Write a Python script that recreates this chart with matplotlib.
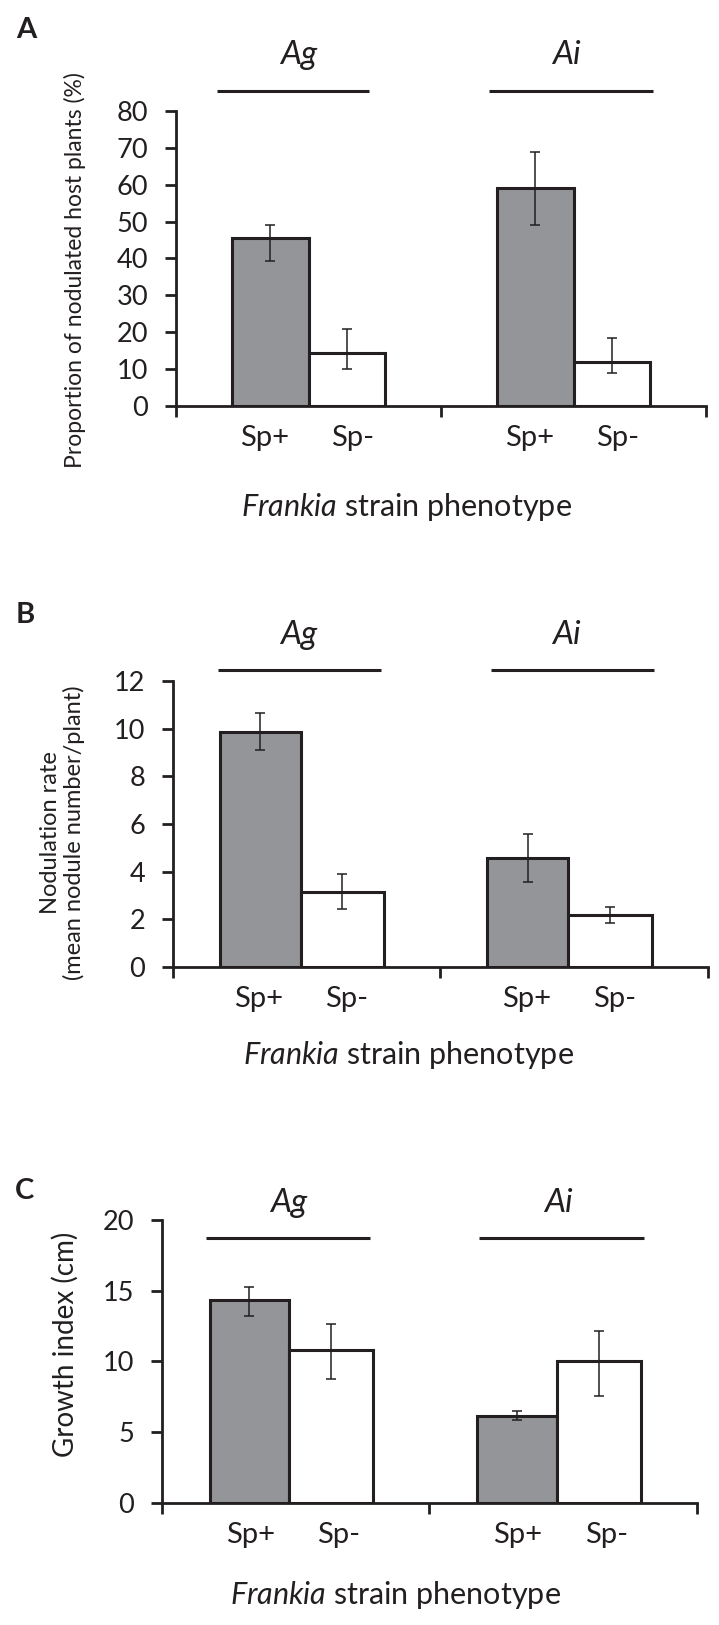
import matplotlib.pyplot as plt
import numpy as np

plt.rcParams['font.family'] = ['Lato', 'DejaVu Sans']
plt.rcParams['mathtext.fontset'] = 'custom'
plt.rcParams['mathtext.rm'] = 'Lato'
plt.rcParams['mathtext.it'] = 'Lato:italic'

groups = ['Ag', 'Ai']
phenotypes = ['Sp+', 'Sp-']

# A: proportion of nodulated host plants (%)
a_plus = [45.6, 59.2]
a_plus_lo = [39.3, 49.2]
a_plus_hi = [49.2, 68.9]
a_minus = [14.3, 11.9]
a_minus_lo = [10.0, 8.8]
a_minus_hi = [20.8, 18.5]

# B: nodulation rate (nodules/plant)
b_plus = [9.85, 4.56]
b_plus_lo = [9.12, 3.57]
b_plus_hi = [10.66, 5.57]
b_minus = [3.16, 2.18]
b_minus_lo = [2.45, 1.85]
b_minus_hi = [3.89, 2.52]

# C: growth index (cm)
c_plus = [14.35, 6.15]
c_plus_lo = [13.2, 5.84]
c_plus_hi = [15.26, 6.52]
c_minus = [10.78, 10.0]
c_minus_lo = [8.76, 7.53]
c_minus_hi = [12.66, 12.15]

GREY = '#939598'
INK = '#231f20'
W, H = 719, 1625

fig = plt.figure(figsize=(W / 100, H / 100), dpi=100)


def panel(rect, letter, letter_xy, plus, plus_lo, plus_hi, minus, minus_lo, minus_hi,
          ymax, ystep, ylabel, ylab_size, ylab_xy, edges, lines, line_y, lab_x, lab_y,
          sp_x, frank_xy):
    ax = fig.add_axes(rect)
    x = np.arange(len(groups))
    l, m, r = edges
    ax.bar(x + l, plus, width=m - l, align='edge', color=GREY, edgecolor=INK, linewidth=2.2, zorder=2)
    ax.bar(x + m, minus, width=r - m, align='edge', color='white', edgecolor=INK, linewidth=2.2, zorder=2)
    ax.errorbar(x + (l + m) / 2, plus,
                yerr=[np.subtract(plus, plus_lo), np.subtract(plus_hi, plus)],
                fmt='none', ecolor=INK, elinewidth=1.1, capsize=3.5, capthick=1.1, zorder=3)
    ax.errorbar(x + (m + r) / 2, minus,
                yerr=[np.subtract(minus, minus_lo), np.subtract(minus_hi, minus)],
                fmt='none', ecolor=INK, elinewidth=1.1, capsize=3.5, capthick=1.1, zorder=3)

    ax.set_xlim(-0.5, 1.5)
    ax.set_ylim(0, ymax)
    ax.set_yticks(np.arange(0, ymax + ystep / 2, ystep))
    ax.set_xticks([-0.5, 0.5, 1.5])
    ax.set_xticklabels([])
    for s in ['top', 'right']:
        ax.spines[s].set_visible(False)
    for s in ['left', 'bottom']:
        ax.spines[s].set_linewidth(2)
        ax.spines[s].set_color(INK)
    ax.tick_params(axis='x', direction='out', length=8, width=2, color=INK)
    ax.tick_params(axis='y', direction='out', length=8, width=2, color=INK,
                   labelsize=19.5, pad=12, labelcolor=INK)
    ax.set_ylabel(ylabel, fontsize=ylab_size, color=INK, linespacing=1.1)
    ax.yaxis.set_label_coords(*ylab_xy)

    # group bars and names above the plot
    for i, g in enumerate(groups):
        ax.plot([i + lines[i][0], i + lines[i][1]], [line_y, line_y], color=INK,
                linewidth=2.2, clip_on=False, solid_capstyle='butt')
        ax.text(i + lab_x[i], lab_y, g, style='italic', fontsize=24, color=INK,
                ha='center', va='center', clip_on=False)
        for j, p in enumerate(phenotypes):
            ax.annotate(p, xy=(i + sp_x[j], 0), xycoords=('data', 'axes fraction'),
                        xytext=(0, -23), textcoords='offset points',
                        ha='center', va='center', fontsize=21, color=INK)

    fig.text(frank_xy[0] / W, 1 - frank_xy[1] / H, r'$\mathit{Frankia}$ strain phenotype',
             ha='center', va='center', fontsize=22, color=INK)
    fig.text(letter_xy[0] / W, 1 - letter_xy[1] / H, letter, fontsize=21,
             fontweight='bold', color=INK, ha='center', va='center')
    return ax


panel([0.2448, 0.7502, 0.7372, 0.1815], 'A', (26, 30),
      a_plus, a_plus_lo, a_plus_hi, a_minus, a_minus_lo, a_minus_hi,
      80, 10, 'Proportion of nodulated host plants (%)', 16.5, (-0.17, 0.46),
      (-0.29, 0.0, 0.29), [(-0.345, 0.23), (-0.32, 0.30)], 85.4,
      [-0.036, -0.028], 95.2, [-0.165, 0.165], (407, 507))

panel([0.2406, 0.4049, 0.7441, 0.176], 'B', (25, 615),
      b_plus, b_plus_lo, b_plus_hi, b_minus, b_minus_lo, b_minus_hi,
      12, 2, 'Nodulation rate\n(mean nodule number/plant)', 17, (-0.165, 0.47),
      (-0.325, -0.023, 0.29), [(-0.33, 0.276), (-0.311, 0.298)], 12.46,
      [-0.029, -0.03], 13.93, [-0.18, 0.15], (409, 1055))

panel([0.2253, 0.0751, 0.7441, 0.1742], 'C', (25, 1191),
      c_plus, c_plus_lo, c_plus_hi, c_minus, c_minus_lo, c_minus_hi,
      20, 5, 'Growth index (cm)', 20, (-0.155, 0.56),
      (-0.322, -0.025, 0.29), [(-0.335, 0.279), (-0.314, 0.301)], 18.7,
      [-0.028, -0.019], 21.2, [-0.17, 0.16], (396, 1595))

fig.savefig('out.png', dpi=100)
